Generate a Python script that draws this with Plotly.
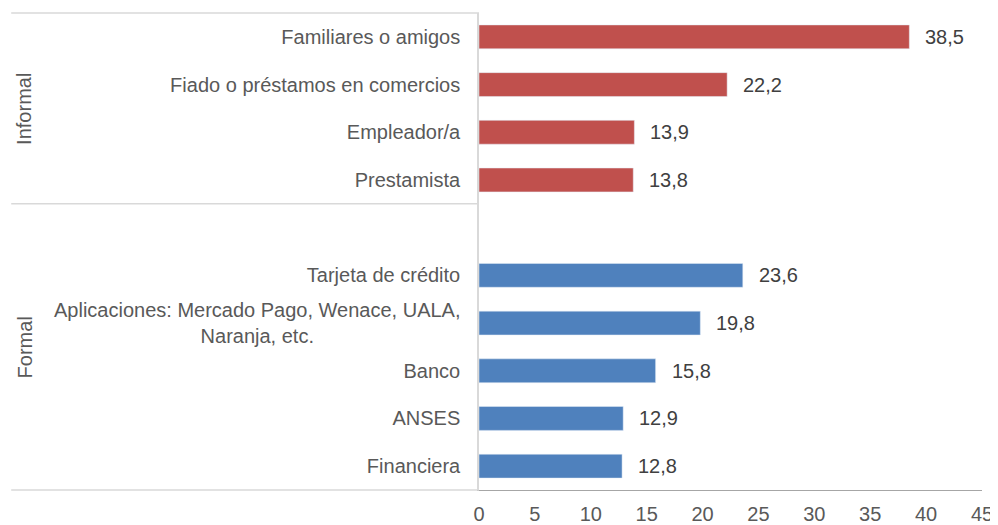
import plotly.graph_objects as go

# ---- data ----
informal_labels = ["Familiares o amigos", "Fiado o préstamos en comercios", "Empleador/a", "Prestamista"]
informal_values = [38.5, 22.2, 13.9, 13.8]
formal_labels = ["Tarjeta de crédito",
                 "Aplicaciones: Mercado Pago, Wenace, UALA,<br>Naranja, etc.",
                 "Banco", "ANSES", "Financiera"]
formal_values = [23.6, 19.8, 15.8, 12.9, 12.8]
blank_label = " "
group_names = ["Informal", "Formal"]
x_ticks = [0, 5, 10, 15, 20, 25, 30, 35, 40, 45]

RED = "#C0504D"
BLUE = "#4F81BD"
FONT = "Liberation Sans, Arial, sans-serif"
FS = 20
TXT = "#595959"
VAL = "#404040"

categories = informal_labels + [blank_label] + formal_labels
multiline = formal_labels[1]
ticktext = ["" if c == multiline else c for c in categories]

fig = go.Figure()
fig.add_trace(go.Bar(y=informal_labels, x=informal_values, orientation="h",
                     marker=dict(color=RED), width=0.5, hoverinfo="x+y"))
fig.add_trace(go.Bar(y=[blank_label], x=[None], orientation="h",
                     marker=dict(color=BLUE), width=0.5, showlegend=False))
fig.add_trace(go.Bar(y=formal_labels, x=formal_values, orientation="h",
                     marker=dict(color=BLUE), width=0.5, hoverinfo="x+y"))

annotations = []
for lab, v in list(zip(informal_labels, informal_values)) + list(zip(formal_labels, formal_values)):
    annotations.append(dict(x=v, y=lab, xref="x", yref="y", text=f"{v:.1f}".replace(".", ","),
                            showarrow=False, xanchor="left", xshift=14,
                            font=dict(family=FONT, size=FS, color=VAL)))

# multi-line category label (centered lines, right-aligned block)
annotations.append(dict(x=0, y=multiline, xref="paper", yref="y", text=multiline,
                        showarrow=False, xanchor="right", align="center", xshift=-16,
                        font=dict(family=FONT, size=FS, color=TXT)))

# group labels
n_inf = len(informal_labels)
n_all = len(categories)
annotations.append(dict(x=-0.9036, y=(n_inf - 1) / 2, xref="paper", yref="y", text=group_names[0],
                        textangle=-90, showarrow=False, xanchor="center", yanchor="middle",
                        font=dict(family=FONT, size=FS, color=TXT)))
annotations.append(dict(x=-0.9036, y=(n_inf + n_all - 1) / 2, xref="paper", yref="y", text=group_names[1],
                        textangle=-90, showarrow=False, xanchor="center", yanchor="middle",
                        font=dict(family=FONT, size=FS, color=TXT)))

LIGHT = "#D9D9D9"
x_left = -0.930
shapes = [
    dict(type="line", xref="paper", yref="paper", x0=x_left, x1=0, y0=1, y1=1,
         line=dict(color=LIGHT, width=1.5)),
    dict(type="line", xref="paper", yref="y", x0=x_left, x1=0, y0=n_inf - 0.5, y1=n_inf - 0.5,
         line=dict(color=LIGHT, width=1.5)),
    dict(type="line", xref="paper", yref="paper", x0=x_left, x1=0, y0=0, y1=0,
         line=dict(color=LIGHT, width=1.5)),
]

fig.update_layout(
    width=990, height=517, autosize=False,
    margin=dict(l=471, r=16, t=5, b=35, autoexpand=False),
    paper_bgcolor="white", plot_bgcolor="white",
    showlegend=False, barmode="overlay",
    font=dict(family=FONT, size=FS, color=TXT),
    annotations=annotations, shapes=shapes,
    xaxis=dict(range=[0, 45], tickvals=x_ticks, ticktext=[str(t) for t in x_ticks],
               showgrid=False, zeroline=False, showline=True, linecolor="#A6A6A6", linewidth=1,
               ticks="", ticklabelstandoff=6, automargin=False,
               tickfont=dict(family=FONT, size=FS, color=TXT), fixedrange=True),
    yaxis=dict(type="category", categoryorder="array", categoryarray=categories,
               tickvals=categories, ticktext=ticktext,
               range=[n_all - 0.5, -0.5],
               showgrid=False, zeroline=False, showline=True, linecolor=LIGHT, linewidth=1.5,
               ticks="", ticklabelstandoff=13, automargin=False,
               tickfont=dict(family=FONT, size=FS, color=TXT), fixedrange=True),
)

fig.write_html("out.html")
